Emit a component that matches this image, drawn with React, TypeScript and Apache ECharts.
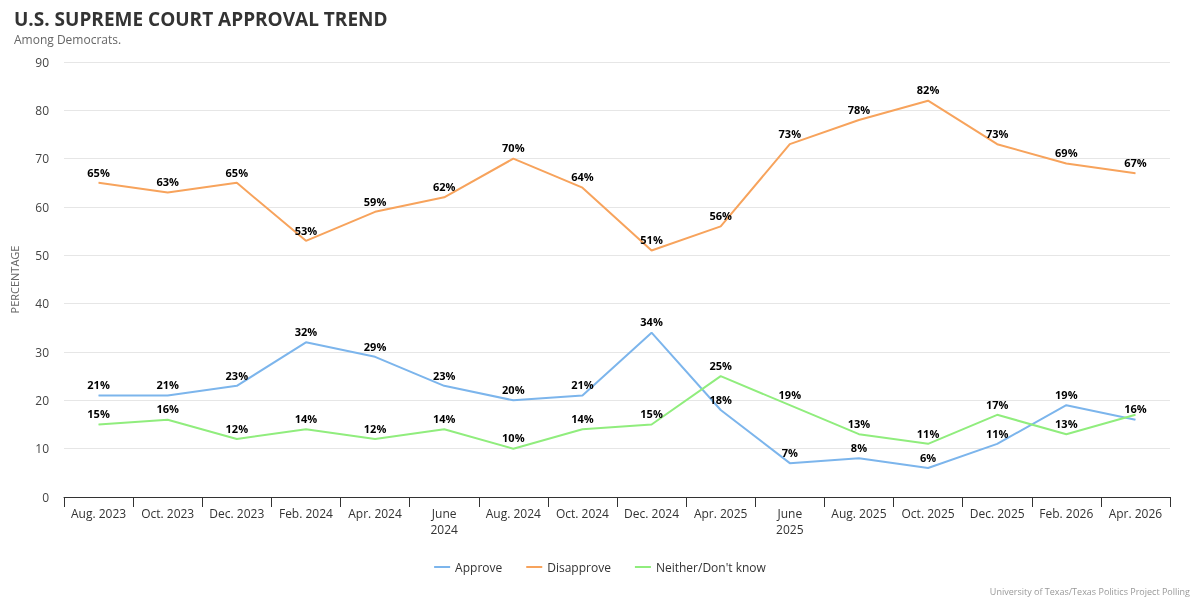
import React, { useEffect, useRef } from "react";
import * as echarts from "echarts";

const categories = [
  "Aug. 2023", "Oct. 2023", "Dec. 2023", "Feb. 2024", "Apr. 2024", "June\n2024",
  "Aug. 2024", "Oct. 2024", "Dec. 2024", "Apr. 2025", "June\n2025", "Aug. 2025",
  "Oct. 2025", "Dec. 2025", "Feb. 2026", "Apr. 2026",
];
const approve = [21, 21, 23, 32, 29, 23, 20, 21, 34, 18, 7, 8, 6, 11, 19, 16];
const disapprove = [65, 63, 65, 53, 59, 62, 70, 64, 51, 56, 73, 78, 82, 73, 69, 67];
const neither = [15, 16, 12, 14, 12, 14, 10, 14, 15, 25, 19, 13, 11, 17, 13, 17];
const yTicks = { min: 0, max: 90, interval: 10 };

const FONT = "'Open Sans', 'Noto Sans', sans-serif";

export default function App() {
  const ref = useRef<HTMLDivElement>(null);
  useEffect(() => {
    if (!ref.current) return;
    const chart = echarts.init(ref.current, null, { renderer: "svg" });
    const label = {
      show: true,
      position: "top",
      distance: 5,
      formatter: "{c}%",
      fontSize: 11,
      fontWeight: "bold",
      color: "#000",
      fontFamily: FONT,
    };
    const mk = (name: string, data: number[], color: string, hideLast = false) => ({
      name,
      type: "line",
      symbol: "circle",
      symbolSize: 0.5,
      showSymbol: true,
      data: data.map((v, i) =>
        hideLast && i === data.length - 1 ? { value: v, label: { show: false } } : v
      ),
      lineStyle: { color, width: 2 },
      itemStyle: { color },
      label,
      emphasis: { disabled: true },
    });
    chart.setOption({
      animation: false,
      textStyle: { fontFamily: FONT },
      title: {
        text: "U.S. SUPREME COURT APPROVAL TREND",
        subtext: "Among Democrats.",
        left: 9,
        top: 4,
        itemGap: 5,
        textStyle: { fontSize: 19, fontWeight: "bold", color: "#333", fontFamily: FONT },
        subtextStyle: { fontSize: 12, color: "#666", fontFamily: FONT },
      },
      legend: {
        bottom: 22,
        left: "center",
        icon: "rect",
        itemWidth: 16,
        itemHeight: 2,
        itemGap: 24,
        textStyle: { fontSize: 12, color: "#333", fontFamily: FONT },
        data: ["Approve", "Disapprove", "Neither/Don't know"],
      },
      grid: { left: 64, right: 30, top: 62, bottom: 103 },
      xAxis: {
        type: "category",
        data: categories,
        boundaryGap: true,
        axisLine: { lineStyle: { color: "#333" } },
        axisTick: { show: true, alignWithLabel: false, length: 10, lineStyle: { color: "#333" } },
        axisLabel: { color: "#333", fontSize: 12, interval: 0, margin: 8, lineHeight: 16, fontFamily: FONT },
      },
      yAxis: {
        type: "value",
        min: yTicks.min,
        max: yTicks.max,
        interval: yTicks.interval,
        name: "PERCENTAGE",
        nameLocation: "middle",
        nameRotate: 90,
        nameGap: 44,
        nameTextStyle: { fontSize: 11, color: "#666", fontFamily: FONT },
        axisLine: { show: false },
        axisTick: { show: false },
        axisLabel: { color: "#444", fontSize: 12, margin: 15, fontFamily: FONT },
        splitLine: { lineStyle: { color: "#e6e6e6" } },
      },
      series: [
        mk("Approve", approve, "#7cb5ec"),
        mk("Disapprove", disapprove, "#f7a35c"),
        mk("Neither/Don't know", neither, "#90ed7d", true),
      ],
      graphic: [
        {
          type: "text",
          right: 10,
          bottom: 4,
          style: {
            text: "University of Texas/Texas Politics Project Polling",
            fontSize: 9,
            fill: "#999",
            fontFamily: FONT,
          },
        },
      ],
    });
    return () => chart.dispose();
  }, []);
  return (
    <div
      ref={ref}
      style={{ position: "fixed", left: 0, top: 0, width: 1200, height: 600 }}
    />
  );
}
